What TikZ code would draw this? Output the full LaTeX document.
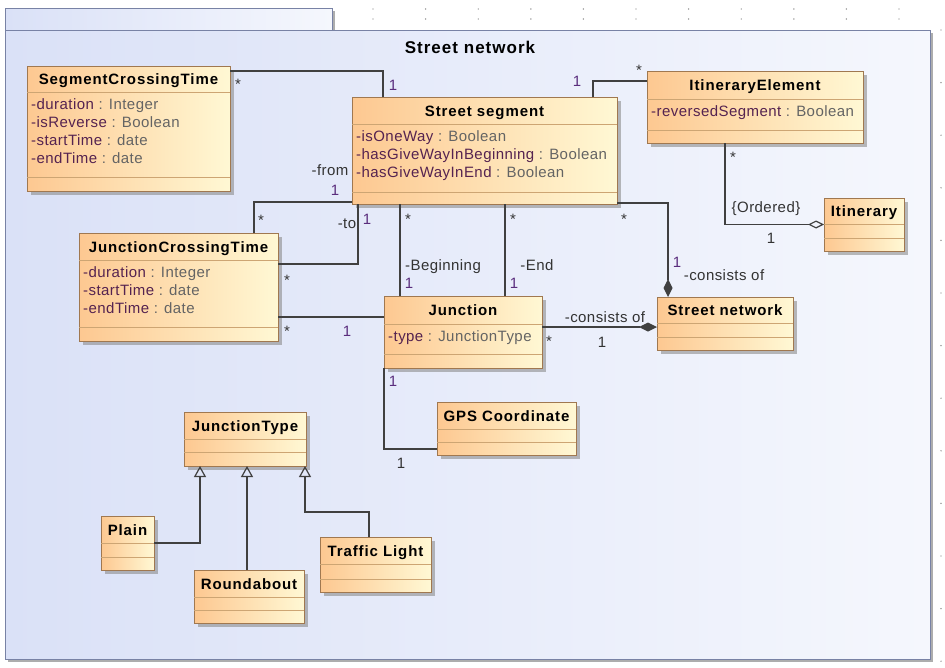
\documentclass[tikz,border=0pt]{standalone}
\usepackage{fontspec}
\setmainfont{Liberation Sans}
\newfontfamily\clsfont{Liberation Sans}[LetterSpace=6]
\newfontfamily\lblfont{Liberation Sans}[LetterSpace=3]
\usetikzlibrary{positioning, calc, arrows.meta, shadows}
\definecolor{clsL}{RGB}{253,200,145}
\definecolor{clsR}{RGB}{255,248,212}
\definecolor{clsBorder}{RGB}{160,120,80}
\definecolor{sepLine}{RGB}{205,165,115}
\definecolor{frameL}{RGB}{218,225,247}
\definecolor{frameR}{RGB}{245,247,253}
\definecolor{frameBorder}{RGB}{120,130,165}
\definecolor{attrName}{RGB}{85,35,80}
\definecolor{attrType}{RGB}{100,100,100}
\definecolor{multPurple}{RGB}{90,45,125}
\definecolor{lineGray}{RGB}{64,64,64}
\definecolor{dotGray}{RGB}{120,120,120}
\tikzstyle{pkgframe}=[%
      draw=frameBorder, line width=1pt, left color=frameL, right color=frameR,
      drop shadow={shadow xshift=3pt, shadow yshift=-3pt, fill=black!40, opacity=.8}
]
\tikzstyle{cls}=[%
      rectangle, draw=clsBorder, line width=1pt, left color=clsL, right color=clsR,
      inner sep=0pt, outer sep=0pt,
      drop shadow={shadow xshift=4pt, shadow yshift=-4pt, fill=black!45, opacity=.6}
]
\tikzstyle{compline}=[draw=sepLine, line width=0.9pt]
\tikzstyle{clsname}=[font=\clsfont\bfseries\fontsize{15}{18}\selectfont, inner sep=0pt, text height=11pt, text depth=0pt]
\tikzstyle{diagtitle}=[font=\clsfont\bfseries\fontsize{17}{20}\selectfont, inner sep=0pt, text height=12pt, text depth=0pt]
\tikzstyle{attrbox}=[font=\lblfont\fontsize{15}{18}\selectfont, align=left, anchor=north west, inner sep=0pt]
\tikzstyle{assoc}=[draw=lineGray, line width=1.2pt]
\tikzstyle{gen}=[assoc, -{Triangle[open, length=11pt, width=12pt]}]
\tikzstyle{lbl}=[font=\lblfont\fontsize{15}{18}\selectfont, text=black!80, inner sep=0pt, text height=11pt, text depth=0pt]
\tikzstyle{multlbl}=[lbl, text=multPurple]
\newcommand{\attrib}[2]{\textcolor{attrName}{#1} \textcolor{attrType}{: #2}}
\newcommand{\umlclass}[9]{%
  \node[cls, minimum width=#4, minimum height=#5, anchor=north west] (#1) at (#2,#3) {};
  \draw[compline] ($(#1.north west)+(0,#7)$) -- ($(#1.north east)+(0,#7)$);
  \draw[compline] ($(#1.north west)+(0,#7+#8)$) -- ($(#1.north east)+(0,#7+#8)$);
  \node[clsname] (#1-name) at ($(#1.north)+(0,#7/2)$) {#6};
  \if\relax\detokenize{#9}\relax\else
    \node[attrbox] (#1-attr) at ($(#1.north west)+(4,#7+6)$) {#9};
  \fi
}
\begin{document}
\begin{tikzpicture}[x=1pt, y=-1pt]
  \useasboundingbox (0,0) rectangle (945,667);
  % grid dots
  \foreach \i in {0,...,10} {
    \fill[dotGray] (373+52.6*\i,9) circle (0.7pt);
    \fill[dotGray] (373+52.6*\i,19) circle (0.7pt);
  }
  \foreach \j in {0,...,12}
    \fill[dotGray] (941,30+52.6*\j) circle (0.7pt);

  % package
  \draw[pkgframe] (5,8) rectangle (332,30);
  \draw[pkgframe] (5,30) rectangle (930,659);
  \node[diagtitle] (title) at (470,47) {Street network};

  % classes
  \umlclass{sct}{27}{66}{203}{125}{SegmentCrossingTime}{26}{85}{\attrib{-duration}{Integer}\\ \attrib{-isReverse}{Boolean}\\ \attrib{-startTime}{date}\\ \attrib{-endTime}{date}}
  \umlclass{seg}{352}{97}{265}{107}{Street segment}{27}{68}{\attrib{-isOneWay}{Boolean}\\ \attrib{-hasGiveWayInBeginning}{Boolean}\\ \attrib{-hasGiveWayInEnd}{Boolean}}
  \umlclass{ite}{647}{71}{216}{72}{ItineraryElement}{28}{31}{\attrib{-reversedSegment}{Boolean}}
  \umlclass{itin}{824}{198}{80}{53}{Itinerary}{26}{14}{}
  \umlclass{jct}{79}{233}{199}{108}{JunctionCrossingTime}{27}{67}{\attrib{-duration}{Integer}\\ \attrib{-startTime}{date}\\ \attrib{-endTime}{date}}
  \umlclass{jun}{384}{296}{158}{72}{Junction}{28}{30}{\attrib{-type}{JunctionType}}
  \umlclass{net}{657}{297}{136}{53}{Street network}{26}{14}{}
  \umlclass{gps}{437}{402}{139}{53}{GPS Coordinate}{27}{13}{}
  \umlclass{jtype}{184}{412}{122}{54}{JunctionType}{27}{13}{}
  \umlclass{plain}{101}{516}{53}{54}{Plain}{27}{14}{}
  \umlclass{round}{194}{570}{110}{53}{Roundabout}{27}{13}{}
  \umlclass{light}{320}{537}{111}{55}{Traffic Light}{27}{15}{}

  % associations
  \draw[assoc] ([yshift=-5pt]sct.north east) -| ([xshift=31pt]seg.north west)
    node[lbl] at (238,84) {*} node[multlbl] at (393,85) {1};
  \draw[assoc] ([xshift=-24pt]seg.north east) |- ([yshift=-10pt]ite.north west)
    node[multlbl] at (577,81) {1} node[lbl] at (639,70) {*};
  \draw[assoc, -{Diamond[open, length=16pt, width=8pt]}] ([xshift=78pt]ite.south west) |- (itin.west)
    node[lbl] at (733,157) {*} node[lbl] at (766,207) {\{Ordered\}} node[lbl] at (771,238) {1};
  \draw[assoc] ([yshift=2pt]seg.south west) -| ([xshift=175pt]jct.north west)
    node[lbl] at (330,170) {-from} node[multlbl] at (335,190) {1} node[lbl] at (261,220) {*};
  \draw[assoc] ([xshift=6pt]seg.south west) |- ([yshift=-31pt]jct.north east)
    node[lbl] at (347,223) {-to} node[multlbl] at (367,219) {1} node[lbl] at (287,280) {*};
  \draw[assoc] ([xshift=48pt]seg.south west) -- ([xshift=16pt]jun.north west)
    node[lbl] at (408,219) {*} node[lbl] at (443,265) {-Beginning} node[multlbl] at (409,283) {1};
  \draw[assoc] ([xshift=153pt]seg.south west) -- ([xshift=121pt]jun.north west)
    node[lbl] at (513,219) {*} node[lbl] at (537,265) {-End} node[multlbl] at (514,283) {1};
  \draw[assoc, -{Diamond[length=18pt, width=9pt]}] ([yshift=1pt]seg.south east) -| ([xshift=11pt]net.north west)
    node[lbl] at (624,219) {*} node[multlbl] at (677,262) {1} node[lbl] at (724,275) {-consists of};
  \draw[assoc, -{Diamond[length=18pt, width=9pt]}] ([yshift=-31pt]jun.north east) -- ([yshift=-31pt]jun.north east -| net.west)
    node[lbl] at (605,317) {-consists of} node[lbl] at (549,341) {*} node[lbl] at (602,342) {1};
  \draw[assoc] ([yshift=-84pt]jct.north east) -- ([yshift=-84pt]jct.north east -| jun.west)
    node[lbl] at (287,331) {*} node[multlbl] at (347,331) {1};
  \draw[assoc] (jun.south west) |- ([yshift=-47pt]gps.north west)
    node[multlbl] at (393,381) {1} node[lbl] at (401,463) {1};

  % generalizations
  \draw[gen] (plain.east) -| ([xshift=16pt]jtype.south west);
  \draw[gen] ([xshift=53pt]round.north west) -- ([xshift=63pt]jtype.south west);
  \draw[gen] ([xshift=49pt]light.north west) |- ([xshift=-1pt,yshift=-46pt]jtype.south east) -- ([xshift=-1pt]jtype.south east);
\end{tikzpicture}
\end{document}
